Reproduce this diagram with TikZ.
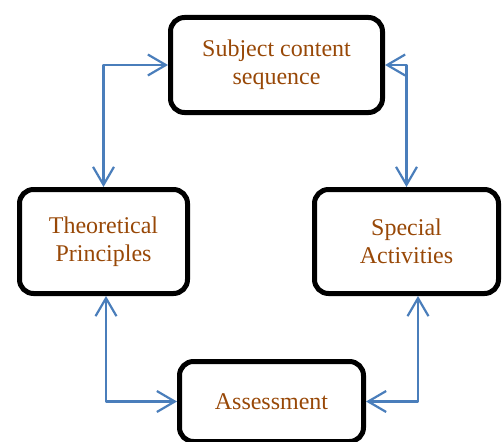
\documentclass[tikz,border=0pt]{standalone}
\usepackage{fontspec}
\setmainfont{Liberation Serif}
\usepackage{xcolor}
\usepackage{tikz}
\usetikzlibrary{arrows.meta}
\usetikzlibrary{positioning,calc}

\definecolor{boxtext}{RGB}{152,72,7}
\definecolor{linkblue}{RGB}{74,126,187}

\begin{document}
\begin{tikzpicture}[x=1pt,y=-1pt,line join=round,line cap=round]
% -------------------------------------------------
% Styles
% -------------------------------------------------
\tikzset{
  block/.style={draw=black, line width=5pt, rounded corners=14pt, align=center,
    text=boxtext, inner sep=0pt, font=\fontsize{24}{28}\selectfont},
  link/.style={draw=linkblue, line width=2.2pt,
    {Straight Barb[length=18pt,width=21pt]}-{Straight Barb[length=18pt,width=21pt]}},
}
\useasboundingbox (0,0) rectangle (502,441);
% -------------------------------------------------
% Boxes
% -------------------------------------------------
\node[block, minimum width=212pt, minimum height=95pt] (subject) at (276.5,65) {Subject content\\sequence};
\node[block, minimum width=168pt, minimum height=104pt] (theory) at (103.5,241.5) {Theoretical\\Principles};
\node[block, minimum width=184pt, minimum height=104pt] (special) at (406.5,241.5) {Special\\Activities};
\node[block, minimum width=184pt, minimum height=80pt] (assess) at (271.5,401.5) {Assessment};
% -------------------------------------------------
% Links
% -------------------------------------------------
\draw[link] (theory.north) |- (subject.west);
\draw[link] (special.north) |- (subject.east);
\draw[link] ([xshift=2.5pt]theory.south) |- (assess.west);
\draw[link] ([xshift=11.5pt]special.south) |- (assess.east);

\end{tikzpicture}
\end{document}
